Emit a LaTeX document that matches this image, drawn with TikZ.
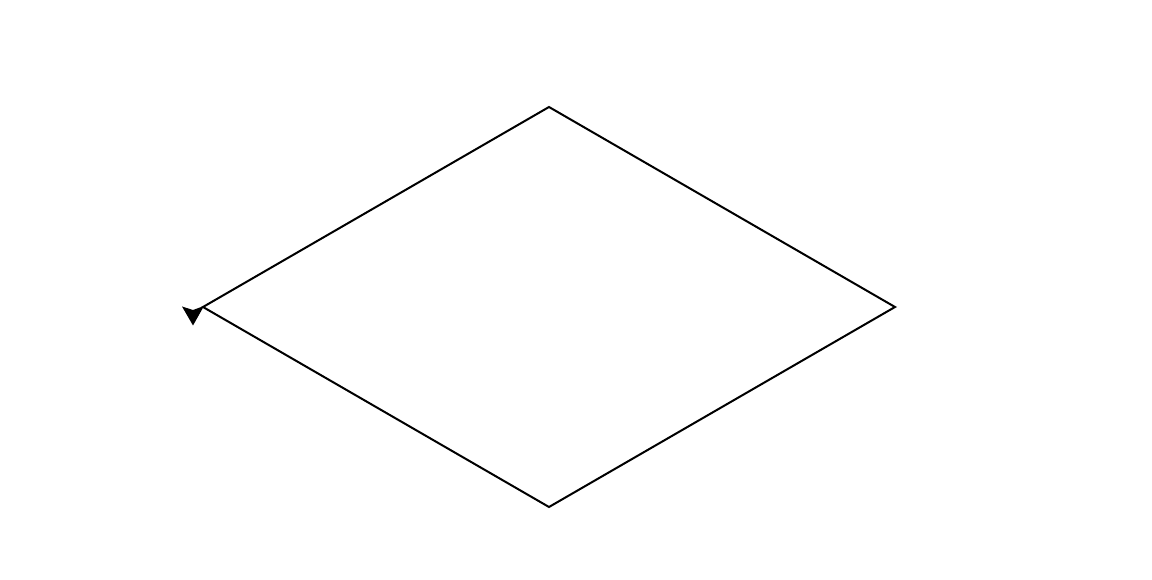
\documentclass[tikz,border=0pt]{standalone}
\begin{document}
\begin{tikzpicture}[x=0.75pt,y=-0.75pt,
  edge/.style={line width=1.5pt,line join=miter},
  tip/.style={fill=black,draw=none}]
\useasboundingbox (0,0) rectangle (1152,580);
\coordinate (T) at (549,107);
\coordinate (R) at (895,307);
\coordinate (B) at (549,507);
\coordinate (L) at (203,307);
\draw[edge] (L) -- (T) -- (R) -- (B) -- cycle;
\fill[tip] (182,306.5) -- (193,310) -- (204,306) -- (193,325.5) -- cycle;
\end{tikzpicture}
\end{document}
